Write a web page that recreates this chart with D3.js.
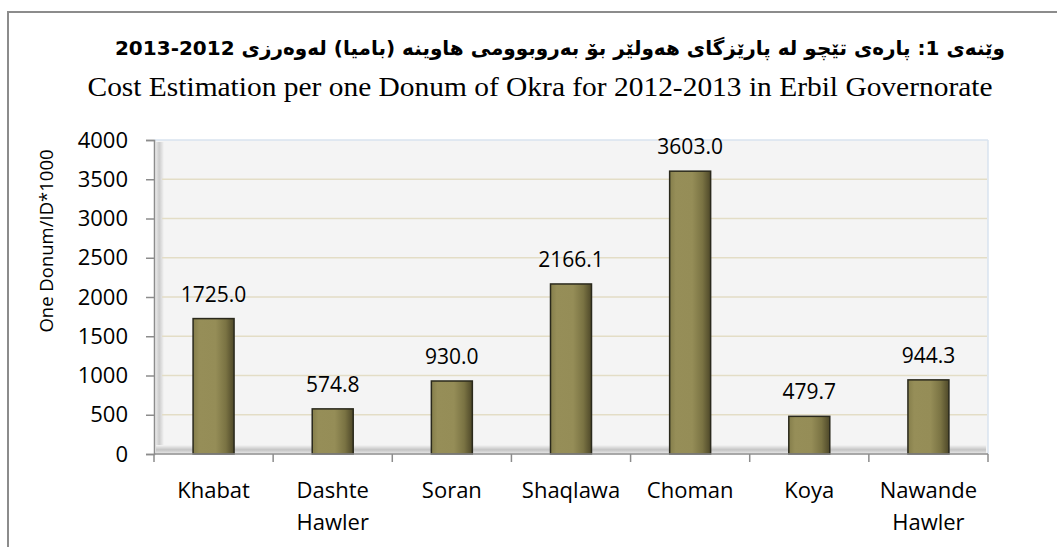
<!DOCTYPE html>
<html><head><meta charset="utf-8">
<script src="https://cdn.jsdelivr.net/npm/d3@7"></script>
<style>html,body{margin:0;padding:0;background:#fff;}svg{display:block;}</style>
</head><body>
<script>
const categories = ["Khabat", "Dashte\nHawler", "Soran", "Shaqlawa", "Choman", "Koya", "Nawande\nHawler"];
const values = [1725.0, 574.8, 930.0, 2166.1, 3603.0, 479.7, 944.3];
const yTicks = [0, 500, 1000, 1500, 2000, 2500, 3000, 3500, 4000];
const titleKu = "وێنەی 1: پارەی تێچو لە پارێزگای هەولێر بۆ بەروبوومی هاوینە (بامیا) لەوەرزی 2012-2013";
const titleEn = "Cost Estimation per one Donum of Okra for 2012-2013 in Erbil Governorate";
const yTitle = "One Donum/ID*1000";

const W = 1057, H = 547;
const plot = {left: 154, right: 988, top: 140, bottom: 454};
const svg = d3.select("body").append("svg").attr("width", W).attr("height", H);
const defs = svg.append("defs");

const g1 = defs.append("linearGradient").attr("id", "barGrad").attr("x1", 0).attr("x2", 1).attr("y1", 0).attr("y2", 0);
[[0, "#857e4b"], [0.15, "#968e58"], [0.55, "#958d57"], [0.8, "#7a7343"], [1, "#4e4829"]].forEach(s =>
  g1.append("stop").attr("offset", s[0]).attr("stop-color", s[1]));
const gl = defs.append("linearGradient").attr("id", "bevL").attr("x1", 0).attr("x2", 1);
[[0, "#e6e6e6"], [0.4, "#cbcbcb"], [1, "#f4f4f4"]].forEach(s => gl.append("stop").attr("offset", s[0]).attr("stop-color", s[1]));
const gb = defs.append("linearGradient").attr("id", "bevB").attr("x1", 0).attr("x2", 0).attr("y1", 0).attr("y2", 1);
[[0, "#f4f4f4"], [0.6, "#c4c4c4"], [1, "#e2e2e2"]].forEach(s => gb.append("stop").attr("offset", s[0]).attr("stop-color", s[1]));

// outer frame
svg.append("path").attr("d", `M8,${H} L8,12 L${W},12`).attr("fill", "none").attr("stroke", "#8c8c8c").attr("stroke-width", 2);

// titles
svg.append("text").attr("x", 560).attr("y", 55).attr("text-anchor", "middle")
  .attr("direction", "rtl").attr("unicode-bidi", "embed")
  .style("font-family", "'DejaVu Sans', 'Noto Sans', sans-serif").style("font-weight", "bold").style("font-size", "20px")
  .attr("fill", "#000").text(titleKu);
svg.append("text").attr("x", 540).attr("y", 96).attr("text-anchor", "middle")
  .attr("textLength", 905).attr("lengthAdjust", "spacingAndGlyphs")
  .style("font-family", "'Liberation Serif', 'Times New Roman', serif").style("font-size", "28px")
  .attr("fill", "#000").text(titleEn);

const x = d3.scaleBand().domain(categories).range([plot.left, plot.right]).paddingInner(0.656).paddingOuter(0.328);
const y = d3.scaleLinear().domain([0, 4000]).range([plot.bottom, plot.top]);

// plot background with bevel
svg.append("rect").attr("x", plot.left + 1).attr("y", plot.top).attr("width", plot.right - plot.left - 1).attr("height", plot.bottom - plot.top).attr("fill", "#f4f4f4");
svg.append("rect").attr("x", plot.left + 2).attr("y", plot.top + 2).attr("width", 8).attr("height", plot.bottom - plot.top - 4).attr("fill", "url(#bevL)");
svg.append("rect").attr("x", plot.left + 2).attr("y", plot.bottom - 9).attr("width", plot.right - plot.left - 4).attr("height", 8).attr("fill", "url(#bevB)");
svg.append("line").attr("x1", plot.left).attr("x2", plot.right).attr("y1", plot.top).attr("y2", plot.top).attr("stroke", "#d9e3ef").attr("stroke-width", 1.5);
svg.append("line").attr("x1", plot.right).attr("x2", plot.right).attr("y1", plot.top).attr("y2", plot.bottom).attr("stroke", "#d9e3ef").attr("stroke-width", 1.5);

// gridlines
svg.append("g").selectAll("line").data(yTicks.filter(t => t > 0 && t < 4000)).join("line")
  .attr("x1", plot.left + 8).attr("x2", plot.right - 1).attr("y1", d => y(d)).attr("y2", d => y(d))
  .attr("stroke", "#e3ddc6").attr("stroke-width", 1.5);

// bars
svg.append("g").selectAll("rect").data(values).join("rect")
  .attr("x", (d, i) => x(categories[i])).attr("y", d => y(d))
  .attr("width", x.bandwidth()).attr("height", d => y(0) - y(d))
  .attr("fill", "url(#barGrad)").attr("stroke", "#2a291c").attr("stroke-width", 1.5);

// value labels
svg.append("g").selectAll("text").data(values).join("text")
  .attr("x", (d, i) => x(categories[i]) + x.bandwidth() / 2).attr("y", d => y(d) - 17)
  .attr("text-anchor", "middle").style("font-family", "'Open Sans', sans-serif").style("font-size", "21px")
  .attr("fill", "#000").text(d => d.toFixed(1));

// y axis
const yAxis = svg.append("g").attr("transform", `translate(${plot.left},0)`)
  .call(d3.axisLeft(y).tickValues(yTicks).tickSize(8).tickPadding(18).tickFormat(d3.format("d")));
yAxis.select(".domain").attr("stroke", "#8c8c8c").attr("stroke-width", 1.5);
yAxis.selectAll(".tick line").attr("stroke", "#8c8c8c").attr("stroke-width", 1.5);
yAxis.selectAll(".tick text").style("font-family", "'Open Sans', sans-serif").style("font-size", "22px").attr("fill", "#000");

// x axis
const xAxisG = svg.append("g").attr("transform", `translate(0,${plot.bottom})`);
xAxisG.append("line").attr("x1", plot.left).attr("x2", plot.right).attr("stroke", "#8c8c8c").attr("stroke-width", 1.5);
const step = x.step();
const bounds = d3.range(categories.length + 1).map(i => plot.left + i * step);
xAxisG.selectAll("line.tk").data(bounds).join("line").attr("class", "tk")
  .attr("x1", d => d).attr("x2", d => d).attr("y1", 0).attr("y2", 8).attr("stroke", "#8c8c8c").attr("stroke-width", 1.5);
const xl = xAxisG.selectAll("text").data(categories).join("text")
  .attr("x", d => x(d) + x.bandwidth() / 2).attr("y", 44)
  .attr("text-anchor", "middle").style("font-family", "'Open Sans', sans-serif").style("font-size", "22px").attr("fill", "#000");
xl.each(function(d) {
  const parts = d.split("\n");
  d3.select(this).selectAll("tspan").data(parts).join("tspan")
    .attr("x", x(d) + x.bandwidth() / 2).attr("dy", (p, i) => i === 0 ? 0 : 32).text(p => p);
});

// y title
svg.append("text").attr("transform", `translate(53,241) rotate(-90)`).attr("text-anchor", "middle")
  .style("font-family", "'Open Sans', sans-serif").style("font-size", "18.5px").attr("fill", "#000").text(yTitle);
</script>
</body></html>
